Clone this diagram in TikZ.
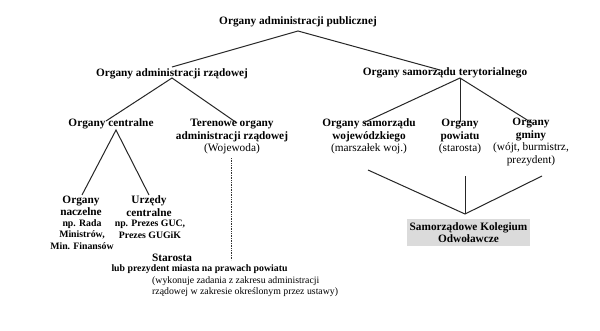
\documentclass[tikz,border=0pt]{standalone}
\usepackage{fontspec}
\setmainfont{Liberation Serif}
\usetikzlibrary{calc}
\tikzset{
  lbl/.style={inner sep=0pt, align=center, font=\fontsize{11.3}{12.5}\selectfont\bfseries},
  sml/.style={inner sep=0pt, align=center, font=\fontsize{9.8}{11.5}\selectfont\bfseries},
  note/.style={inner sep=0pt, align=left, font=\fontsize{9.8}{11.5}\selectfont},
  conn/.style={line width=1pt, draw=black!85},
  dotconn/.style={line width=1pt, draw=black!80, dash pattern=on 0.8pt off 0.9pt},
  skobox/.style={lbl, fill=black!14, minimum width=123pt, minimum height=27pt}
}
\begin{document}
\begin{tikzpicture}[x=1pt,y=-1pt]
\useasboundingbox[fill=white] (0,0) rectangle (600,330);
% nodes
\node[lbl] (top) at (298,22) {Organy administracji publicznej};
\node[lbl] (rzad) at (172,74) {Organy administracji rządowej};
\node[lbl] (sam) at (445,73) {Organy samorządu terytorialnego};
\node[lbl] (centr) at (111,124) {Organy centralne};
\node[lbl] (teren) at (232,136.5) {Terenowe organy\\administracji rządowej\\\textmd{(Wojewoda)}};
\node[lbl] (woj) at (369,136.5) {Organy samorządu\\wojewódzkiego\\\textmd{(marszałek woj.)}};
\node[lbl] (pow) at (460,136.5) {Organy\\powiatu\\\textmd{(starosta)}};
\node[lbl] (gmi) at (531,142) {Organy\\gminy\\\textmd{(wójt, burmistrz,}\\\textmd{prezydent)}};
\node[lbl] (nacz) at (81,206) {Organy\\naczelne};
\node[sml] (nacz2) at (82,234.5) {np. Rada\\Ministrów,\\Min. Finansów};
\node[lbl] (urz) at (149,206) {Urzędy\\centralne};
\node[sml] (urz2) at (150,229.5) {np. Prezes GUC,\\Prezes GUGiK};
\node[lbl] (staro) at (172,258) {Starosta};
\node[sml] (lub) at (199.5,269) {lub prezydent miasta na prawach powiatu};
\node[note, anchor=west] (wyk) at (152,286.5) {(wykonuje zadania z zakresu administracji\\rządowej w zakresie określonym przez ustawy)};
\node[skobox] (sko) at (468.5,232.5) {Samorządowe Kolegium\\Odwoławcze};
% connectors
\draw[conn] ($(rzad.center)+(0,-7)$) -- ($(top.center)+(0,9)$) -- ($(sam.center)+(-5,-3)$);
\draw[conn] ($(centr.center)+(-5,-3)$) -- ($(rzad.center)+(0,4)$) -- ($(teren.center)+(5,-13.5)$);
\draw[conn] ($(nacz.center)+(1,-11)$) -- ($(centr.center)+(5,6)$) -- ($(urz.center)+(0,-11)$);
\draw[conn] ($(woj.center)+(-6,-13.5)$) -- ($(sam.center)+(15,5)$) -- ($(gmi.center)+(1,-19)$);
\draw[conn] ($(sam.center)+(15,5)$) -- ($(pow.center)+(0,-14.5)$);
\draw[dotconn] ($(teren.center)+(-1,21.5)$) -- ($(lub.center)+(31.5,-9)$);
\coordinate (skotop) at ($(sko.center)+(-3.5,-18.5)$);
\draw[conn] ($(woj.center)+(-1,33.5)$) -- (skotop) -- ($(gmi.center)+(11,34)$);
\draw[conn] ($(pow.center)+(5,39.5)$) -- (skotop);
\end{tikzpicture}
\end{document}
